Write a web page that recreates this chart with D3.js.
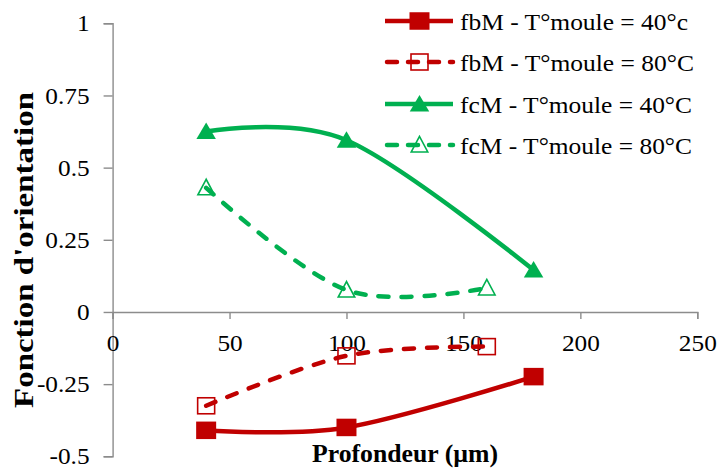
<!DOCTYPE html>
<html><head><meta charset="utf-8">
<script src="https://cdn.jsdelivr.net/npm/d3@7"></script>
<style>body{margin:0;background:#fff}svg{display:block}</style>
</head><body>
<script>
const depth = [40, 100, 180];
const depth80 = [40, 100, 160];
const fbM40 = [-0.41, -0.40, -0.224];
const fbM80 = [-0.325, -0.152, -0.12];
const fcM40 = [0.625, 0.595, 0.145];
const fcM80 = [0.43, 0.076, 0.083];
const seriesNames = ["fbM - T°moule = 40°c", "fbM - T°moule = 80°C", "fcM - T°moule = 40°C", "fcM - T°moule = 80°C"];
const xTicks = [0, 50, 100, 150, 200, 250];
const yTicks = [-0.5, -0.25, 0, 0.25, 0.5, 0.75, 1];
const yTickLabels = ["-0.5", "-0.25", "0", "0.25", "0.5", "0.75", "1"];

const RED = "#C00000", GREEN = "#00B050";
const FONT = "Liberation Serif";
const STRETCH = 1.1;
const series = [
  {name: seriesNames[0], xs: depth, ys: fbM40, color: RED, dash: null, marker: "square", filled: true},
  {name: seriesNames[1], xs: depth80, ys: fbM80, color: RED, dash: "10,13", marker: "square", filled: false},
  {name: seriesNames[2], xs: depth, ys: fcM40, color: GREEN, dash: null, marker: "triangle", filled: true},
  {name: seriesNames[3], xs: depth80, ys: fcM80, color: GREEN, dash: "10,13", marker: "triangle", filled: false}
];

const W = 719, H = 468;
const svg = d3.select("body").append("svg").attr("width", W).attr("height", H)
  .attr("font-family", FONT);

function stretch(sel, target) {
  sel.each(function() {
    const len = this.getComputedTextLength();
    d3.select(this).attr("textLength", target || len * STRETCH).attr("lengthAdjust", "spacingAndGlyphs");
  });
}

const x = d3.scaleLinear().domain([0, 250]).range([112.6, 697.3]);
const y = d3.scaleLinear().domain([-0.5, 1]).range([456.3, 23.3]);
const axisColor = "#8c8c8c";

// Y axis
const yAxis = svg.append("g").attr("transform", `translate(${x(0)},0)`)
  .call(d3.axisLeft(y).tickValues(yTicks).tickSize(9).tickPadding(14)
    .tickFormat((d, i) => yTickLabels[i]));
yAxis.attr("font-family", FONT).attr("font-size", 23);
yAxis.select(".domain").attr("stroke", axisColor).attr("stroke-width", 1.4);
yAxis.selectAll(".tick line").attr("stroke", axisColor).attr("stroke-width", 1.4);
yAxis.selectAll(".tick text").attr("font-family", FONT).attr("font-size", 23).attr("fill", "#000").attr("dy", "0.33em");
stretch(yAxis.selectAll(".tick text"));

// X axis at y=0
const xAxis = svg.append("g").attr("transform", `translate(0,${y(0)})`)
  .call(d3.axisBottom(x).tickValues(xTicks).tickSize(7).tickPadding(16).tickFormat(d3.format("d")));
xAxis.attr("font-family", FONT).attr("font-size", 23);
xAxis.select(".domain").attr("stroke", axisColor).attr("stroke-width", 1.4);
xAxis.selectAll(".tick line").attr("stroke", axisColor).attr("stroke-width", 1.4);
xAxis.selectAll(".tick text").attr("font-family", FONT).attr("font-size", 23).attr("fill", "#000");
stretch(xAxis.selectAll(".tick text"));

// Axis titles
svg.append("text").attr("x", 405).attr("y", 462).attr("text-anchor", "middle").attr("font-family", FONT)
  .attr("font-size", 25).attr("font-weight", "bold").text("Profondeur (µm)")
  .call(s => stretch(s, 186));
svg.append("text").attr("transform", "translate(33,250) rotate(-90)").attr("text-anchor", "middle").attr("font-family", FONT)
  .attr("font-size", 27).attr("font-weight", "bold").text("Fonction d'orientation")
  .call(s => stretch(s, 316));

const line = d3.line().x(d => x(d[0])).y(d => y(d[1])).curve(d3.curveCatmullRom.alpha(0));

function drawMarker(g, cx, cy, s) {
  if (s.marker === "square") {
    const w = s.filled ? 20 : 17, h = s.filled ? 17.5 : 16;
    g.append("rect").attr("x", cx - w / 2).attr("y", cy - h / 2).attr("width", w).attr("height", h)
      .attr("fill", s.filled ? s.color : "none").attr("stroke", s.color).attr("stroke-width", s.filled ? 0 : 1.6);
  } else {
    const h = s.filled ? 16.5 : 15.5, w = s.filled ? 19.5 : 16.5;
    const pts = [[cx, cy - h * 0.55], [cx - w / 2, cy + h * 0.45], [cx + w / 2, cy + h * 0.45]];
    g.append("path").attr("d", "M" + pts.map(p => p.join(",")).join("L") + "Z")
      .attr("fill", s.filled ? s.color : "none").attr("stroke", s.color).attr("stroke-width", s.filled ? 0 : 1.6);
  }
}

series.forEach(s => {
  const g = svg.append("g");
  const pts = s.xs.map((v, i) => [v, s.ys[i]]);
  g.append("path").attr("d", line(pts)).attr("fill", "none").attr("stroke", s.color)
    .attr("stroke-width", 4.5).attr("stroke-dasharray", s.dash).attr("stroke-linecap", s.dash ? "round" : "butt");
  pts.forEach(p => drawMarker(g, x(p[0]), y(p[1]), s));
});

// Legend
const legY = [21, 62, 104, 145];
const legW = [228, 234, 232, 232];
series.forEach((s, i) => {
  const g = svg.append("g");
  const yy = legY[i];
  if (s.dash) {
    g.append("path").attr("d", `M387,${yy}H453`).attr("stroke", s.color).attr("stroke-width", 4.5)
      .attr("stroke-dasharray", "10,11").attr("stroke-linecap", "round").attr("fill", "none");
  } else {
    g.append("path").attr("d", `M385,${yy}H453`).attr("stroke", s.color).attr("stroke-width", 4.5).attr("fill", "none");
  }
  drawMarker(g, 419.5, yy, s);
  g.append("text").attr("x", 460).attr("y", yy + 9).attr("font-family", FONT)
    .attr("font-size", 23).attr("fill", "#000").text(s.name)
    .call(t => stretch(t, legW[i]));
});
</script>
</body></html>
